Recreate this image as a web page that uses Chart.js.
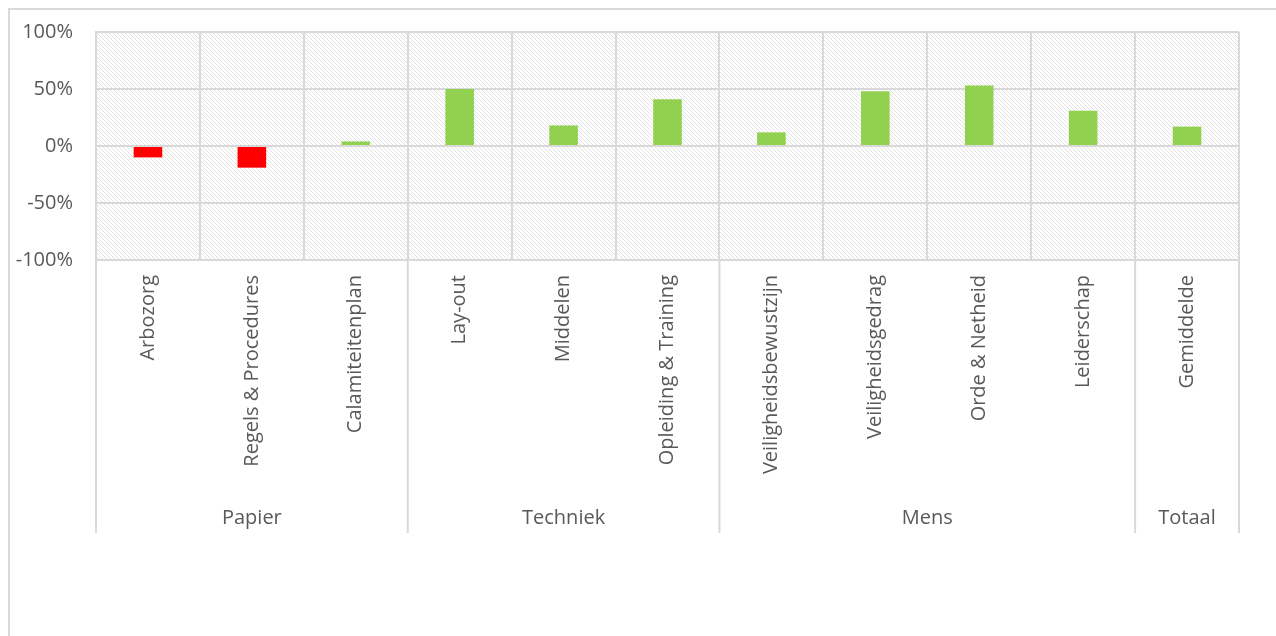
<!DOCTYPE html>
<html lang="nl">
<head>
  <meta charset="UTF-8" />
  <title>Scores per onderdeel</title>
  <script src="https://cdn.jsdelivr.net/npm/chart.js"></script>
  <style>
    html, body { margin: 0; padding: 0; background: #fff; }
    #wrap { width: 1276px; height: 636px; position: relative; }
  </style>
</head>
<body>
  <div id="wrap"><canvas id="scoreChart" width="1276" height="636"></canvas></div>

  <script>
    // data
    const categories = [
      "Arbozorg", "Regels & Procedures", "Calamiteitenplan",
      "Lay-out", "Middelen", "Opleiding & Training",
      "Veiligheidsbewustzijn", "Veiligheidsgedrag", "Orde & Netheid", "Leiderschap",
      "Gemiddelde"
    ];
    const scores = [-0.10, -0.19, 0.04, 0.50, 0.18, 0.41, 0.12, 0.48, 0.53, 0.31, 0.17];
    const groupNames = ["Papier", "Techniek", "Mens", "Totaal"];
    const groupSizes = [3, 3, 4, 1];
    const yTicks = [-1, -0.5, 0, 0.5, 1];

    const textColor = "#595959";
    const lineColor = "#d9d9d9";
    const fontFamily = "'Open Sans', sans-serif";
    const fontSize = 20;

    // light downward diagonal hatch like the excel plot area
    function makeHatch() {
      const c = document.createElement("canvas");
      c.width = 4; c.height = 4;
      const g = c.getContext("2d");
      g.fillStyle = "#ffffff";
      g.fillRect(0, 0, 4, 4);
      g.fillStyle = "#e2e2e2";
      for (let i = 0; i < 4; i++) g.fillRect(i, i, 1, 1);
      return g.createPattern(c, "repeat");
    }

    const extras = {
      id: "extras",
      beforeDraw(chart) {
        const ctx = chart.ctx;
        const a = chart.chartArea;
        ctx.save();
        ctx.fillStyle = "#fff";
        ctx.fillRect(0, 0, chart.width, chart.height);
        ctx.strokeStyle = lineColor;
        ctx.lineWidth = 2;
        ctx.beginPath();
        ctx.moveTo(9, chart.height + 2);
        ctx.lineTo(9, 9);
        ctx.lineTo(chart.width + 2, 9);
        ctx.stroke();
        ctx.fillStyle = makeHatch();
        ctx.fillRect(a.left, a.top, a.right - a.left, a.bottom - a.top);
        ctx.restore();
      },
      afterDraw(chart) {
        const ctx = chart.ctx;
        const x = chart.scales.x;
        const a = chart.chartArea;
        const half = (x.getPixelForValue(1) - x.getPixelForValue(0)) / 2;
        const lineBottom = 533;
        ctx.save();
        ctx.strokeStyle = lineColor;
        ctx.lineWidth = 2;
        ctx.fillStyle = textColor;
        ctx.font = fontSize + "px " + fontFamily;
        ctx.textAlign = "center";
        ctx.textBaseline = "middle";
        let start = 0;
        const edges = [x.getPixelForValue(0) - half];
        groupNames.forEach((name, i) => {
          const end = start + groupSizes[i] - 1;
          const left = x.getPixelForValue(start) - half;
          const right = x.getPixelForValue(end) + half;
          edges.push(right);
          ctx.fillText(name, (left + right) / 2, 518);
          start = end + 1;
        });
        ctx.beginPath();
        edges.forEach(px => {
          ctx.moveTo(px, a.bottom);
          ctx.lineTo(px, lineBottom);
        });
        ctx.stroke();
        ctx.restore();
      }
    };

    new Chart(document.getElementById("scoreChart"), {
      type: "bar",
      data: {
        labels: categories,
        datasets: [{
          data: scores,
          backgroundColor: scores.map(v => v < 0 ? "#ff0000" : "#92d050"),
          barPercentage: 0.275,
          categoryPercentage: 1
        }]
      },
      options: {
        responsive: false,
        animation: false,
        layout: { padding: { left: 0, top: 32, right: 37, bottom: 0 } },
        plugins: { legend: { display: false }, tooltip: { enabled: false } },
        scales: {
          x: {
            afterFit: s => {
              s.height = 376;
              s.paddingLeft = 0; s.paddingRight = 0; s.paddingTop = 0; s.paddingBottom = 0;
            },
            grid: { offset: true, color: lineColor, lineWidth: 2, drawTicks: false },
            border: { color: lineColor, width: 2 },
            ticks: {
              autoSkip: false, minRotation: 90, maxRotation: 90, padding: 15,
              color: textColor, font: { family: fontFamily, size: fontSize }
            }
          },
          y: {
            min: -1, max: 1,
            afterFit: s => {
              s.width = 96;
              s.paddingTop = 0; s.paddingBottom = 0;
            },
            afterBuildTicks: s => { s.ticks = yTicks.map(v => ({ value: v })); },
            grid: { color: lineColor, lineWidth: 2, drawTicks: false },
            border: { color: lineColor, width: 2 },
            ticks: {
              padding: 23, color: textColor, font: { family: fontFamily, size: fontSize },
              callback: v => Math.round(v * 100) + "%"
            }
          }
        }
      },
      plugins: [extras]
    });
  </script>
</body>
</html>
